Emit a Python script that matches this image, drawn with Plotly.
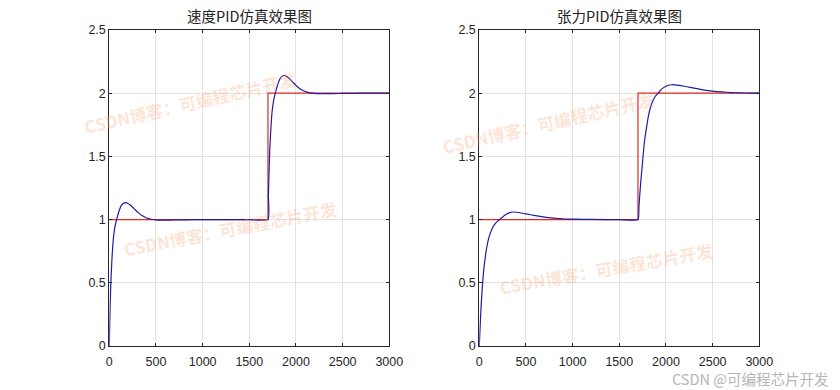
import plotly.graph_objects as go

# ---------------- data ----------------
x_ticks = [0, 500, 1000, 1500, 2000, 2500, 3000]
y_ticks = [0, 0.5, 1, 1.5, 2, 2.5]
y_tick_text = ["0", "0.5", "1", "1.5", "2", "2.5"]

setpoint_t = [0, 1700, 1700, 3000]
setpoint_v = [1, 1, 2, 2]

speed_t = [0, 5, 10, 15, 20, 30, 40, 50, 60, 70, 82, 95, 110, 130, 150, 175, 200, 225,
           250, 280, 310, 350, 400, 450, 500, 550, 600, 700, 800, 1000, 1200, 1500, 1700,
           1705, 1710, 1715, 1720, 1730, 1740, 1750, 1760, 1770, 1782, 1795, 1810, 1830,
           1850, 1875, 1900, 1925, 1950, 1980, 2010, 2050, 2100, 2150, 2200, 2250, 2300,
           2400, 2500, 2700, 3000]
speed_v = [0, 0.19, 0.34, 0.46, 0.56, 0.71, 0.82, 0.89, 0.94, 0.975, 1.01, 1.045, 1.08,
           1.112, 1.128, 1.134, 1.128, 1.115, 1.098, 1.076, 1.055, 1.032, 1.013, 1.003,
           0.998, 0.996, 0.996, 0.997, 0.998, 1.0, 1.0, 1.0, 1.0,
           1.19, 1.34, 1.46, 1.56, 1.71, 1.82, 1.89, 1.94, 1.975, 2.01, 2.045, 2.08, 2.115,
           2.133, 2.14, 2.133, 2.118, 2.1, 2.077, 2.055, 2.032, 2.013, 2.003, 1.998, 1.996,
           1.996, 1.997, 1.998, 2.0, 2.0]

tension_t = [0, 5, 10, 15, 20, 30, 40, 50, 60, 70, 80, 95, 110, 130, 150, 175, 200, 225,
             250, 280, 320, 354, 400, 450, 500, 600, 700, 800, 900, 1000, 1200, 1500, 1700,
             1710, 1720, 1730, 1745, 1767, 1793, 1815, 1836, 1860, 1882, 1917, 1950, 2000,
             2060, 2120, 2200, 2300, 2400, 2500, 2600, 2700, 2800, 2900, 3000]
tension_v = [0, 0.09, 0.17, 0.25, 0.32, 0.44, 0.54, 0.62, 0.68, 0.735, 0.78, 0.835, 0.875,
             0.915, 0.945, 0.972, 0.99, 1.005, 1.02, 1.038, 1.053, 1.06, 1.058, 1.052, 1.045,
             1.032, 1.02, 1.012, 1.006, 1.003, 1.001, 1.0, 1.0,
             1.1, 1.2, 1.3, 1.42, 1.6, 1.735, 1.83, 1.893, 1.94, 1.972, 2.0, 2.03, 2.055,
             2.067, 2.064, 2.055, 2.04, 2.027, 2.017, 2.01, 2.005, 2.002, 2.001, 2.0]

titles = ["速度PID仿真效果图", "张力PID仿真效果图"]
watermark = "CSDN博客：可编程芯片开发"
footer = "CSDN @可编程芯片开发"

# ---------------- figure ----------------
W, H = 840, 390
RED = "#e3261f"
BLUE = "#1c1ca6"
AX = "#262626"

fig = go.Figure()
fig.add_trace(go.Scatter(x=setpoint_t, y=setpoint_v, mode="lines",
                         line=dict(color=RED, width=1.2), xaxis="x", yaxis="y"))
fig.add_trace(go.Scatter(x=speed_t, y=speed_v, mode="lines", line_shape="spline",
                         line=dict(color=BLUE, width=1.2, smoothing=0.5), xaxis="x", yaxis="y"))
fig.add_trace(go.Scatter(x=setpoint_t, y=setpoint_v, mode="lines",
                         line=dict(color=RED, width=1.2), xaxis="x2", yaxis="y2"))
fig.add_trace(go.Scatter(x=tension_t, y=tension_v, mode="lines", line_shape="spline",
                         line=dict(color=BLUE, width=1.2, smoothing=0.5), xaxis="x2", yaxis="y2"))

y0, y1 = 1 - 346 / H, 1 - 30 / H
axl = (109.3 / W, 389.3 / W)
axr = (479.3 / W, 759.3 / W)

common_x = dict(range=[0, 3000], tickvals=x_ticks, ticks="inside", ticklen=3,
                tickcolor=AX, showline=True, linecolor=AX, linewidth=1, mirror="ticks",
                showgrid=True, gridcolor="#e2e2e2", gridwidth=1, zeroline=False,
                automargin=False, ticklabelstandoff=4,
                tickfont=dict(family="Liberation Sans, Arial", size=12.5, color=AX))
common_y = dict(range=[0, 2.5], tickvals=y_ticks, ticktext=y_tick_text, ticks="inside",
                ticklen=3, tickcolor=AX, showline=True, linecolor=AX, linewidth=1,
                mirror="ticks", showgrid=True, gridcolor="#e2e2e2", gridwidth=1,
                zeroline=False, domain=[y0, y1], automargin=False,
                tickfont=dict(family="Liberation Sans, Arial", size=12.5, color=AX))

fig.update_layout(
    width=W, height=H, margin=dict(l=0, r=0, t=0, b=0, pad=0, autoexpand=False),
    paper_bgcolor="white", plot_bgcolor="white", showlegend=False,
    xaxis=dict(domain=list(axl), anchor="y", **common_x),
    yaxis=dict(anchor="x", **common_y),
    xaxis2=dict(domain=list(axr), anchor="y2", **common_x),
    yaxis2=dict(anchor="x2", **common_y),
)

# titles
for i, (dom, t) in enumerate(zip([axl, axr], titles)):
    fig.add_annotation(text=t, x=(dom[0] + dom[1]) / 2, y=1 - 16 / H, xref="paper",
                       yref="paper", showarrow=False, xanchor="center", yanchor="middle",
                       font=dict(family="Noto Sans CJK SC", size=14.5, color="#222222"))

# watermarks
wm_pos = [(190, 103, -13), (230, 228, -11), (548, 122, -13), (606, 268, -10)]
for (px, py, ang) in wm_pos:
    fig.add_annotation(text="<b>" + watermark + "</b>", x=px / W, y=1 - py / H,
                       xref="paper", yref="paper", showarrow=False, textangle=ang,
                       xanchor="center", yanchor="middle",
                       font=dict(family="Noto Sans CJK SC", size=17,
                                 color="rgba(247,170,130,0.32)"))

fig.add_annotation(text=footer, x=830 / W, y=1 - 378 / H, xref="paper", yref="paper",
                   showarrow=False, xanchor="right", yanchor="middle",
                   font=dict(family="Noto Sans CJK SC", size=14.5, color="#b5b5b5"))

fig.write_html("out.html", config={"displayModeBar": False},
               post_script="document.body.style.margin='0px';document.body.style.padding='0px';")
